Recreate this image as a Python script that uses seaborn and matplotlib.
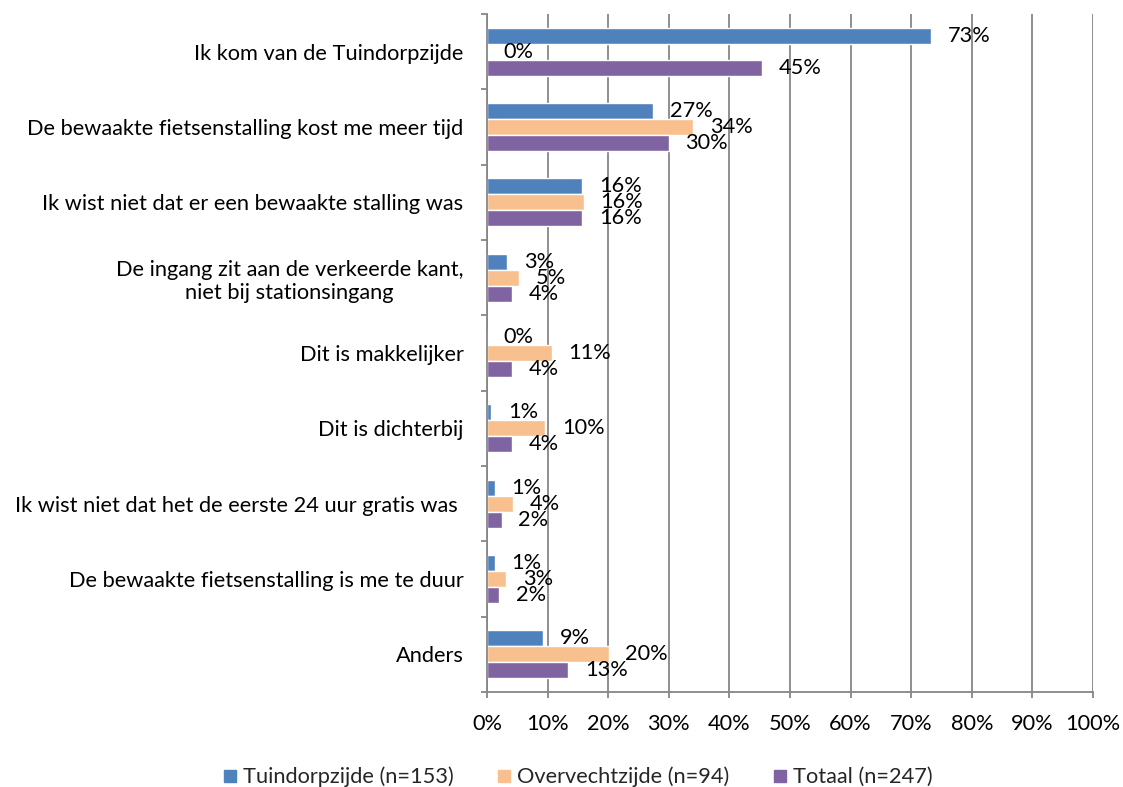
import matplotlib
matplotlib.use('Agg')
import matplotlib.pyplot as plt
import matplotlib.ticker as mticker
import pandas as pd
import seaborn as sns
from matplotlib.lines import Line2D

categories = [
    'Ik kom van de Tuindorpzijde',
    'De bewaakte fietsenstalling kost me meer tijd',
    'Ik wist niet dat er een bewaakte stalling was',
    'De ingang zit aan de verkeerde kant,\nniet bij stationsingang',
    'Dit is makkelijker',
    'Dit is dichterbij',
    'Ik wist niet dat het de eerste 24 uur gratis was ',
    'De bewaakte fietsenstalling is me te duur',
    'Anders',
]
series = ['Tuindorpzijde (n=153)', 'Overvechtzijde (n=94)', 'Totaal (n=247)']
tuindorp = [73.3, 27.4, 15.7, 3.3, 0.0, 0.7, 1.3, 1.3, 9.2]
overvecht = [0.0, 34.0, 16.0, 5.3, 10.7, 9.6, 4.3, 3.2, 20.1]
totaal = [45.4, 30.0, 15.7, 4.1, 4.1, 4.1, 2.4, 2.0, 13.4]
colors = ['#4F81BD', '#F9C08F', '#8064A2']

df = pd.DataFrame({
    'categorie': categories * 3,
    'reeks': [s for s in series for _ in categories],
    'waarde': tuindorp + overvecht + totaal,
})

sns.set_theme(style='white')
plt.rcParams['font.family'] = ['Lato', 'DejaVu Sans']
grey = '#868686'
fs = 15.7

fig = plt.figure(figsize=(11.23, 7.87), dpi=100)
ax = fig.add_axes([487 / 1123, 95 / 787, 606 / 1123, 678 / 787])

sns.barplot(data=df, y='categorie', x='waarde', hue='reeks', hue_order=series,
            order=categories, orient='h', palette=colors, saturation=1,
            width=0.64, legend=False, ax=ax)

for cont, vals in zip(ax.containers, [tuindorp, overvecht, totaal]):
    ax.bar_label(cont, labels=[f'{v:.0f}%' for v in vals], padding=12,
                 fontsize=fs, color='black')

ax.set_xlim(0, 100)
ax.set_ylim(len(categories) - 0.5, -0.5)
ax.xaxis.set_major_locator(mticker.MultipleLocator(10))
ax.xaxis.set_major_formatter(mticker.FuncFormatter(lambda v, p: f'{v:.0f}%'))
ax.grid(axis='x', color=grey, linewidth=1.3)
ax.set_axisbelow(True)
ax.set_xlabel('')
ax.set_ylabel('')

for side in ['top', 'right']:
    ax.spines[side].set_visible(False)
for side in ['left', 'bottom']:
    ax.spines[side].set_color(grey)
    ax.spines[side].set_linewidth(1.3)

ax.yaxis.set_minor_locator(mticker.FixedLocator([i - 0.5 for i in range(len(categories) + 1)]))
ax.tick_params(axis='y', which='major', length=0, pad=17, labelsize=fs, labelcolor='black')
ax.tick_params(axis='y', which='minor', left=True, length=4.5, width=1.3, color=grey)
ax.tick_params(axis='x', which='major', bottom=True, length=4.5, width=1.3, color=grey,
               pad=11, labelsize=fs, labelcolor='black')
for lbl in ax.get_yticklabels():
    lbl.set_multialignment('center')

handles = [Line2D([], [], marker='s', linestyle='', markersize=9, color=c) for c in colors]
fig.legend(handles, series, loc='center', bbox_to_anchor=(577 / 1123, 10 / 787), ncol=3,
           frameon=False, fontsize=fs, handletextpad=0.2, columnspacing=1.9,
           handlelength=0.8)

fig.savefig('out.png', dpi=100)
